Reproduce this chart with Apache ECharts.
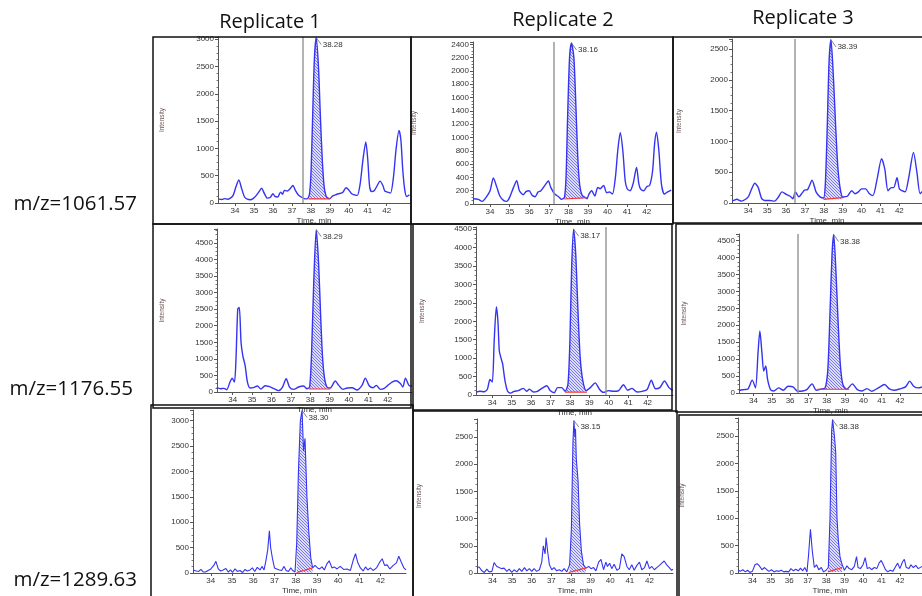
<!DOCTYPE html>
<html><head><meta charset="utf-8">
<script src="https://cdn.jsdelivr.net/npm/echarts@6.0.0/dist/echarts.min.js"></script>
<style>html,body{margin:0;padding:0;background:#fff}#c{width:922px;height:596px}</style>
</head><body><div id="c"></div><script>
// ---------- DATA ----------
const titles = ['Replicate 1', 'Replicate 2', 'Replicate 3'];
const rowLabels = ['m/z=1061.57', 'm/z=1176.55', 'm/z=1289.63'];
const timeTicks = [34, 35, 36, 37, 38, 39, 40, 41, 42];
const yTicks3000 = [0, 500, 1000, 1500, 2000, 2500, 3000];
const yTicks2400 = [0, 200, 400, 600, 800, 1000, 1200, 1400, 1600, 1800, 2000, 2200, 2400];
const yTicks2500 = [0, 500, 1000, 1500, 2000, 2500];
const yTicks4500 = [0, 500, 1000, 1500, 2000, 2500, 3000, 3500, 4000, 4500];
const peakLabels = ['38.28', '38.16', '38.39', '38.29', '38.17', '38.38', '38.30', '38.15', '38.38'];
const cursorLines = [37.55, 37.27, 36.45, null, 39.87, 36.4, null, null, null];
const peakWindows = [[37.87, 39.0], [37.8, 38.94], [37.99, 39.08], [37.93, 39.03], [37.75, 38.88], [37.47, 39.23], [38.05, 38.8], [37.88, 38.81], [38.09, 38.87]];
const baselines = [[75, 75], [75, 95], [60, 90], [90, 90], [80, 80], [110, 110], [10, 100], [10, 100], [20, 100]];

const mz1061_rep1 = [[33.15,70],[33.3,65],[33.45,80],[33.6,70],[33.75,90],[33.9,140],[34.05,300],[34.2,420],[34.35,260],[34.5,110],[34.65,70],[34.8,60],[34.95,80],[35.1,130],[35.25,200],[35.4,270],[35.55,170],[35.7,90],[35.85,100],[36.0,170],[36.1,120],[36.25,110],[36.4,200],[36.5,160],[36.6,230],[36.75,220],[36.9,260],[37.05,320],[37.2,220],[37.35,140],[37.5,110],[37.65,80],[37.8,75],[37.92,150],[38.0,500],[38.08,1400],[38.18,2600],[38.28,3030],[38.4,2500],[38.5,1600],[38.6,800],[38.7,300],[38.8,130],[38.9,90],[39.0,80],[39.15,130],[39.3,150],[39.45,170],[39.6,180],[39.7,200],[39.85,280],[40.0,240],[40.15,170],[40.3,150],[40.45,140],[40.6,350],[40.75,800],[40.9,1120],[41.0,800],[41.1,300],[41.2,210],[41.35,230],[41.5,320],[41.65,400],[41.8,320],[41.9,220],[42.05,200],[42.2,180],[42.35,450],[42.5,1000],[42.65,1330],[42.75,1150],[42.85,600],[42.95,250],[43.05,120],[43.2,150]];
const mz1061_rep2 = [[33.15,80],[33.4,70],[33.6,40],[33.8,100],[34.0,200],[34.17,390],[34.35,250],[34.5,120],[34.7,50],[34.85,40],[35.0,100],[35.2,250],[35.36,350],[35.5,200],[35.7,140],[35.85,190],[36.0,200],[36.15,130],[36.3,110],[36.45,180],[36.6,200],[36.8,280],[36.98,345],[37.1,250],[37.3,150],[37.5,110],[37.65,70],[37.8,100],[37.88,400],[37.96,1300],[38.06,2200],[38.16,2420],[38.28,2200],[38.38,1500],[38.48,700],[38.58,280],[38.7,130],[38.85,100],[38.95,80],[39.05,150],[39.19,200],[39.35,120],[39.5,250],[39.62,230],[39.8,280],[39.95,170],[40.1,180],[40.25,150],[40.4,400],[40.52,800],[40.65,1070],[40.78,800],[40.9,350],[41.0,230],[41.15,200],[41.3,300],[41.48,550],[41.6,300],[41.7,220],[41.85,200],[42.0,260],[42.15,280],[42.3,500],[42.4,900],[42.5,1080],[42.62,800],[42.75,300],[42.9,150],[43.05,180],[43.25,210]];
const mz1061_rep3 = [[33.15,40],[33.21,40],[33.39,60],[33.65,30],[34.0,100],[34.18,230],[34.35,320],[34.53,250],[34.7,80],[34.88,40],[35.14,40],[35.4,30],[35.58,90],[35.79,180],[36.01,140],[36.22,110],[36.36,70],[36.5,180],[36.68,100],[36.85,160],[36.98,210],[37.15,220],[37.38,370],[37.59,180],[37.8,100],[37.99,80],[38.08,300],[38.18,1200],[38.28,2300],[38.38,2650],[38.5,2100],[38.62,1300],[38.74,600],[38.86,250],[39.0,100],[39.25,110],[39.48,200],[39.66,150],[39.83,180],[40.0,230],[40.22,230],[40.39,160],[40.6,120],[40.83,400],[41.06,720],[41.23,550],[41.4,200],[41.58,250],[41.7,250],[41.88,410],[42.0,230],[42.14,200],[42.31,180],[42.49,400],[42.75,820],[42.93,500],[43.1,150],[43.25,200]];
const mz1176_rep1 = [[33.17,130],[33.38,100],[33.55,110],[33.69,70],[33.86,300],[33.97,420],[34.09,300],[34.17,1000],[34.26,2500],[34.34,2550],[34.43,1500],[34.52,1100],[34.64,800],[34.76,300],[34.9,120],[35.07,130],[35.28,180],[35.45,90],[35.67,190],[35.9,160],[36.1,110],[36.36,40],[36.57,150],[36.76,400],[36.93,150],[37.14,80],[37.4,150],[37.66,180],[37.83,100],[37.97,150],[38.07,1200],[38.18,3300],[38.31,4900],[38.43,3900],[38.53,2400],[38.63,1100],[38.73,450],[38.86,150],[39.03,120],[39.29,330],[39.47,200],[39.69,80],[39.9,120],[40.16,130],[40.41,60],[40.67,200],[40.84,420],[41.05,180],[41.24,130],[41.41,200],[41.62,80],[41.79,100],[42.0,200],[42.22,300],[42.45,340],[42.66,250],[42.78,150],[42.91,420],[43.09,200],[43.25,180]];
const mz1176_rep2 = [[33.17,80],[33.36,100],[33.57,90],[33.74,150],[33.88,420],[34.0,350],[34.1,1500],[34.21,2400],[34.29,2000],[34.36,1200],[34.45,1000],[34.53,850],[34.65,400],[34.79,100],[34.95,50],[35.12,100],[35.34,120],[35.6,180],[35.77,100],[35.91,160],[36.12,80],[36.32,100],[36.55,180],[36.81,250],[36.98,120],[37.19,60],[37.36,200],[37.58,200],[37.75,100],[37.9,300],[38.0,1500],[38.09,3500],[38.19,4500],[38.3,3800],[38.42,2200],[38.53,1000],[38.66,400],[38.84,120],[39.05,200],[39.3,330],[39.53,150],[39.73,70],[39.99,120],[40.25,100],[40.51,120],[40.76,280],[40.97,130],[41.2,180],[41.46,80],[41.72,100],[41.98,150],[42.19,400],[42.41,170],[42.63,200],[42.87,380],[43.1,200],[43.3,120]];
const mz1176_rep3 = [[33.21,70],[33.26,80],[33.47,100],[33.7,120],[33.93,380],[34.11,150],[34.25,1200],[34.35,1830],[34.46,1200],[34.56,650],[34.67,800],[34.77,400],[34.93,100],[35.11,60],[35.37,150],[35.63,80],[35.89,200],[36.16,180],[36.42,50],[36.68,60],[36.91,100],[37.2,270],[37.43,80],[37.65,110],[37.91,150],[38.06,700],[38.18,2400],[38.29,4100],[38.38,4680],[38.5,3600],[38.62,2100],[38.74,850],[38.88,250],[39.09,110],[39.4,270],[39.67,100],[39.93,60],[40.2,130],[40.46,50],[40.81,150],[41.16,250],[41.42,120],[41.68,80],[42.04,130],[42.3,180],[42.53,350],[42.74,200],[43.0,150],[43.2,180]];
const mz1289_rep1 = [[33.16,60],[33.21,60],[33.32,40],[33.43,30],[33.53,70],[33.64,20],[33.75,20],[33.87,50],[34.0,80],[34.14,150],[34.24,230],[34.35,80],[34.46,40],[34.58,60],[34.71,90],[34.82,20],[34.93,60],[35.02,10],[35.14,80],[35.25,30],[35.37,50],[35.5,10],[35.61,70],[35.72,40],[35.85,60],[35.96,100],[36.07,30],[36.19,110],[36.32,60],[36.41,130],[36.51,60],[36.6,250],[36.68,450],[36.76,830],[36.82,500],[36.9,300],[37.0,100],[37.11,80],[37.23,60],[37.34,50],[37.45,130],[37.55,50],[37.66,30],[37.77,100],[37.86,50],[37.97,20],[38.05,600],[38.13,2000],[38.22,3000],[38.3,3200],[38.37,2400],[38.44,2650],[38.53,1500],[38.62,800],[38.71,300],[38.8,100],[38.91,150],[39.03,100],[39.13,80],[39.24,120],[39.35,60],[39.47,180],[39.58,240],[39.71,100],[39.82,120],[39.95,80],[40.1,130],[40.26,70],[40.42,80],[40.58,50],[40.71,250],[40.82,380],[40.93,200],[41.05,100],[41.18,40],[41.29,120],[41.4,60],[41.52,100],[41.65,50],[41.81,100],[41.97,220],[42.08,280],[42.19,150],[42.31,160],[42.44,80],[42.6,150],[42.75,200],[42.86,330],[42.97,220],[43.1,100],[43.2,60]];
const mz1289_rep2 = [[33.21,100],[33.32,110],[33.46,40],[33.58,10],[33.71,70],[33.83,20],[33.97,30],[34.08,190],[34.22,120],[34.34,100],[34.47,80],[34.59,90],[34.73,30],[34.85,70],[34.98,10],[35.1,60],[35.24,20],[35.37,80],[35.49,30],[35.63,100],[35.75,40],[35.88,80],[36.0,30],[36.12,80],[36.25,30],[36.39,60],[36.51,200],[36.59,500],[36.68,350],[36.73,650],[36.81,400],[36.9,150],[37.02,60],[37.14,100],[37.27,40],[37.41,60],[37.53,30],[37.65,80],[37.79,20],[37.93,150],[38.02,800],[38.1,2400],[38.15,2800],[38.2,2500],[38.23,2650],[38.27,2100],[38.36,1700],[38.44,900],[38.53,400],[38.64,150],[38.76,90],[38.9,120],[39.02,80],[39.15,100],[39.27,40],[39.41,200],[39.53,250],[39.66,60],[39.78,200],[39.86,120],[39.97,180],[40.08,80],[40.2,160],[40.34,50],[40.47,80],[40.59,350],[40.71,300],[40.85,120],[40.97,60],[41.1,150],[41.22,50],[41.36,140],[41.49,200],[41.61,60],[41.75,100],[41.87,220],[42.0,80],[42.12,120],[42.25,60],[42.37,100],[42.51,140],[42.63,180],[42.75,220],[42.88,150],[43.01,100],[43.13,50],[43.2,70]];
const mz1289_rep3 = [[33.22,60],[33.34,30],[33.48,60],[33.62,20],[33.74,50],[33.86,10],[34.0,30],[34.14,150],[34.26,170],[34.38,130],[34.52,60],[34.66,100],[34.78,60],[34.9,30],[35.04,60],[35.18,20],[35.3,40],[35.44,30],[35.57,50],[35.7,20],[35.83,30],[35.97,20],[36.09,80],[36.23,40],[36.35,70],[36.49,40],[36.61,90],[36.73,40],[36.84,100],[36.96,20],[37.04,300],[37.15,800],[37.25,400],[37.36,100],[37.48,150],[37.6,60],[37.74,100],[37.86,20],[38.0,50],[38.12,100],[38.21,1000],[38.3,2600],[38.35,2800],[38.4,2650],[38.45,2500],[38.52,2200],[38.59,1000],[38.66,600],[38.75,300],[38.87,150],[38.99,50],[39.13,130],[39.25,80],[39.39,60],[39.53,120],[39.65,300],[39.73,100],[39.86,80],[40.0,150],[40.12,280],[40.23,80],[40.35,100],[40.47,60],[40.61,100],[40.75,80],[40.87,180],[40.99,230],[41.1,150],[41.22,60],[41.34,20],[41.48,50],[41.62,30],[41.74,100],[41.88,180],[42.0,80],[42.14,200],[42.24,250],[42.35,100],[42.49,80],[42.6,150],[42.73,100],[42.86,140],[43.0,80],[43.2,120]];

const panelData = [mz1061_rep1, mz1061_rep2, mz1061_rep3, mz1176_rep1, mz1176_rep2, mz1176_rep3, mz1289_rep1, mz1289_rep2, mz1289_rep3];
const panelYTicks = [yTicks3000, yTicks2400, yTicks2500, yTicks4500, yTicks4500, yTicks4500, yTicks3000, yTicks2500, yTicks2500];

// ---------- LAYOUT (positions / styles only) ----------
const layout = [
  {l:218,t:37,w:192,h:166,xmin:33.10,xmax:43.23,ymax:3040,gap:52,smooth:true,yName:true},
  {l:473,t:42,w:199,h:162,xmin:33.13,xmax:43.29,ymax:2435,gap:55,smooth:true,yName:true},
  {l:732,t:39,w:192,h:164,xmin:33.14,xmax:43.2,ymax:2663,gap:49,smooth:true,yName:true},
  {l:217,t:229,w:195,h:163,xmin:33.19,xmax:43.25,ymax:4920,gap:51,smooth:true,yName:true},
  {l:476,t:227,w:197,h:168,xmin:33.16,xmax:43.31,ymax:4560,gap:50,smooth:true,yName:true},
  {l:739,t:234,w:190,h:159,xmin:33.21,xmax:43.2,ymax:4695,gap:51,smooth:true,yName:true},
  {l:193,t:410,w:213,h:164,xmin:33.16,xmax:43.2,ymax:3210,gap:52,smooth:false,yName:false},
  {l:477,t:419,w:196,h:165,xmin:33.21,xmax:43.2,ymax:2830,gap:54,smooth:false,yName:true},
  {l:738,t:418,w:191,h:158,xmin:33.22,xmax:43.2,ymax:2830,gap:52,smooth:false,yName:true}
];
const boxes = [
  [153,37,258,187],[411,37,262,187],[673,37,252,186],
  [153,224,258,184],[413,224,259,186],[676,224,250,188],
  [151,405,262,195],[413,411,264,190],[679,415,250,190]
];

const LINE = '#3434f2';
const chart = echarts.init(document.getElementById('c'));

// hatch pattern for integrated peak
const pat = document.createElement('canvas');
pat.width = 3; pat.height = 3;
const pc = pat.getContext('2d');
pc.fillStyle = 'rgb(222,222,250)'; pc.fillRect(0,0,3,3);
pc.fillStyle = 'rgb(120,120,232)';
pc.fillRect(0,0,1,1); pc.fillRect(1,1,1,1); pc.fillRect(2,2,1,1);

const grids = [], xAxes = [], yAxes = [], series = [];
layout.forEach((g, i) => {
  grids.push({left: g.l, top: g.t, width: g.w, height: g.h, containLabel: false});
  xAxes.push({
    type: 'value', gridIndex: i, min: g.xmin, max: g.xmax,
    name: 'Time, min', nameLocation: 'middle', nameGap: 14,
    nameTextStyle: {fontSize: 8, color: '#333', fontFamily: 'Liberation Sans'},
    axisLine: {show: true, lineStyle: {color: '#555', width: 1}},
    axisTick: {show: true, length: 3, customValues: timeTicks, lineStyle: {color: '#555'}},
    axisLabel: {customValues: timeTicks, fontSize: 8, color: '#333', margin: 4, fontFamily: 'Liberation Sans', formatter: v => String(v)},
    splitLine: {show: false}
  });
  const yt = panelYTicks[i];
  yAxes.push({
    type: 'value', gridIndex: i, min: 0, max: g.ymax, interval: yt[1] - yt[0],
    name: g.yName ? 'Intensity' : '', nameLocation: 'middle', nameGap: g.gap, nameRotate: 90,
    nameTextStyle: {fontSize: 6.5, color: '#6d5656', fontFamily: 'Liberation Sans'},
    axisLine: {show: true, lineStyle: {color: '#555', width: 1}},
    axisTick: {show: true, length: 3, lineStyle: {color: '#555'}},
    minorTick: {show: true, splitNumber: 4, length: 1.5, lineStyle: {color: '#777'}},
    axisLabel: {customValues: yt, fontSize: 8, color: '#333', margin: 4, fontFamily: 'Liberation Sans', formatter: v => String(v)},
    splitLine: {show: false}
  });
  const data = panelData[i];
  let peak = data[0];
  data.forEach(p => { if (p[1] > peak[1]) peak = p; });
  const pxPerX = g.w / (g.xmax - g.xmin), pxPerY = g.h / g.ymax;
  const labelPt = [peak[0] + 5 / pxPerX, peak[1] - 7 / pxPerY];
  const mlData = [[
    {coord: peak, lineStyle: {color: '#666', width: 0.8, type: 'solid'}},
    {coord: labelPt}
  ]];
  if (cursorLines[i] !== null) {
    mlData.push({xAxis: cursorLines[i], lineStyle: {color: '#9a9a9a', width: 1.5, type: 'solid'}});
  }
  series.push({
    type: 'line', xAxisIndex: i, yAxisIndex: i, data: data, showSymbol: false,
    smooth: g.smooth ? 0.25 : false, z: 3,
    lineStyle: {color: LINE, width: g.smooth ? 1.4 : 1.1}, itemStyle: {color: LINE},
    markLine: {silent: true, symbol: ['none', 'none'], label: {show: false}, animation: false, data: mlData},
    markPoint: {
      silent: true, animation: false, symbol: 'circle', symbolSize: 1,
      itemStyle: {color: 'rgba(0,0,0,0)'},
      data: [{coord: labelPt, value: peakLabels[i]}],
      label: {show: true, position: 'right', distance: 1, formatter: peakLabels[i], fontSize: 8, color: '#333', fontFamily: 'Liberation Sans'}
    }
  });
  const win = peakWindows[i];
  const areaPts = data.filter(p => p[0] >= win[0] && p[0] <= win[1]);
  series.push({
    type: 'line', xAxisIndex: i, yAxisIndex: i, data: areaPts, showSymbol: false,
    smooth: g.smooth ? 0.25 : false, z: 2,
    lineStyle: {width: 0}, areaStyle: {color: {image: pat, repeat: 'repeat'}, opacity: 1, origin: Math.min(baselines[i][0], baselines[i][1])}
  });
  series.push({
    type: 'line', xAxisIndex: i, yAxisIndex: i, showSymbol: false, z: 4,
    data: [[win[0], baselines[i][0]], [win[1], baselines[i][1]]],
    lineStyle: {color: '#ff3030', width: 1.2}
  });
});

const graphics = [];
boxes.forEach(b => graphics.push({
  type: 'rect', shape: {x: b[0], y: b[1], width: b[2], height: b[3]},
  style: {fill: 'none', stroke: '#111', lineWidth: 1.5}, z: 10, silent: true
}));
const titleX = [270, 563, 803], titleY = [22, 20, 18];
titles.forEach((t, i) => graphics.push({
  type: 'text', x: titleX[i], y: titleY[i],
  style: {text: t, fontSize: 20, fontFamily: 'Open Sans', fill: '#111', align: 'center', verticalAlign: 'middle'}
}));
const rowX = [137, 133, 137], rowY = [204, 389, 580];
rowLabels.forEach((t, i) => graphics.push({
  type: 'text', x: rowX[i], y: rowY[i],
  style: {text: t, fontSize: 20.5, fontFamily: 'Open Sans', fill: '#111', align: 'right', verticalAlign: 'middle'}
}));

chart.setOption({
  animation: false,
  grid: grids, xAxis: xAxes, yAxis: yAxes, series: series, graphic: graphics
});
</script></body></html>
